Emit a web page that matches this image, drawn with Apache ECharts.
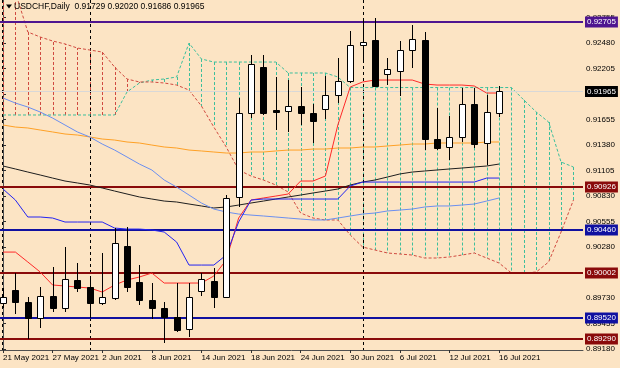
<!DOCTYPE html>
<html><head><meta charset="utf-8">
<script src="https://cdn.jsdelivr.net/npm/echarts@6/dist/echarts.min.js"></script>
<style>html,body{margin:0;padding:0;background:#fce4c4}#c{width:620px;height:368px}</style>
</head><body><div id="c"></div>
<script>
const symbol = 'USDCHF', timeframe = 'Daily';
const dates = ['21 May 2021','24 May 2021','25 May 2021','26 May 2021','27 May 2021','28 May 2021','31 May 2021',
 '1 Jun 2021','2 Jun 2021','3 Jun 2021','4 Jun 2021','7 Jun 2021','8 Jun 2021','9 Jun 2021','10 Jun 2021','11 Jun 2021',
 '14 Jun 2021','15 Jun 2021','16 Jun 2021','17 Jun 2021','18 Jun 2021','21 Jun 2021','22 Jun 2021','23 Jun 2021','24 Jun 2021','25 Jun 2021',
 '28 Jun 2021','29 Jun 2021','30 Jun 2021','1 Jul 2021','2 Jul 2021','5 Jul 2021','6 Jul 2021','7 Jul 2021','8 Jul 2021','9 Jul 2021',
 '12 Jul 2021','13 Jul 2021','14 Jul 2021','15 Jul 2021','16 Jul 2021'];
const open  = [0.89676,0.89817,0.89687,0.89515,0.89752,0.89623,0.89925,0.89849,0.89676,0.89730,0.90291,0.89903,0.89709,0.89623,0.89526,0.89396,0.89806,0.89914,0.89741,0.90820,0.91725,0.92221,0.91758,0.91747,0.91801,0.91725,0.91769,0.91920,0.92071,0.92459,0.92513,0.92146,0.92178,0.92405,0.92513,0.91445,0.91359,0.91467,0.91822,0.91402,0.91729];
const high  = [0.89838,0.90000,0.89741,0.89849,0.90065,0.90280,0.90108,0.89968,0.90216,0.90485,0.90496,0.90086,0.89892,0.89687,0.89892,0.89892,0.90000,0.90054,0.90841,0.91887,0.92351,0.92351,0.92114,0.92081,0.92006,0.91822,0.92124,0.92319,0.92610,0.92728,0.92750,0.92319,0.92502,0.92674,0.92599,0.91779,0.91693,0.91995,0.91995,0.91920,0.92020];
const low   = [0.89623,0.89558,0.89288,0.89407,0.89579,0.89579,0.89795,0.89515,0.89655,0.89709,0.89795,0.89655,0.89504,0.89245,0.89364,0.89310,0.89752,0.89623,0.89730,0.90712,0.91671,0.91704,0.91542,0.91521,0.91596,0.91402,0.91661,0.91833,0.92049,0.92275,0.92006,0.92027,0.91909,0.92211,0.91326,0.91326,0.91219,0.91413,0.91348,0.91165,0.91686];
const close = [0.89741,0.89687,0.89515,0.89752,0.89623,0.89935,0.89838,0.89676,0.89741,0.90324,0.89849,0.89709,0.89623,0.89526,0.89385,0.89741,0.89935,0.89741,0.90809,0.91725,0.92254,0.91725,0.91736,0.91801,0.91725,0.91639,0.91920,0.92071,0.92459,0.92491,0.92017,0.92200,0.92405,0.92523,0.91445,0.91348,0.91467,0.91822,0.91391,0.91736,0.91965];
const tenkan = [0.90226,0.90226,0.90119,0.90011,0.89871,0.89860,0.89849,0.89838,0.89795,0.89871,0.89925,0.89957,0.90000,0.89892,0.89892,0.89892,0.89892,0.89968,0.90140,0.90593,0.90787,0.90809,0.90830,0.90852,0.90992,0.90992,0.91046,0.91596,0.92006,0.92060,0.92081,0.92081,0.92081,0.92081,0.92038,0.92027,0.92027,0.92027,0.92017,0.91941,0.91941];
const kijun = [0.90906,0.90787,0.90604,0.90604,0.90593,0.90550,0.90550,0.90550,0.90550,0.90485,0.90474,0.90474,0.90464,0.90442,0.90334,0.90086,0.90086,0.90086,0.90194,0.90550,0.90787,0.90798,0.90798,0.90798,0.90798,0.90798,0.90798,0.90798,0.90938,0.90981,0.90981,0.90981,0.90981,0.90981,0.90981,0.90981,0.90981,0.90981,0.90981,0.91024,0.91024];
const spanA = [0.91704,0.91704,0.91704,0.91704,0.91704,0.91704,0.91704,0.91704,0.91704,0.91704,0.91952,0.92049,0.92081,0.92092,0.92114,0.92480,0.92308,0.92275,0.92275,0.92275,0.92275,0.92275,0.92275,0.92157,0.92157,0.92157,0.92157,0.92114,0.92000,0.92000,0.92000,0.92000,0.92000,0.92000,0.92000,0.92000,0.92000,0.92000,0.92000,0.92000,0.92000,0.92000,0.91866,0.91736,0.91628,0.91197,0.91143];
const spanB = [0.93268,0.93030,0.92599,0.92545,0.92502,0.92470,0.92426,0.92405,0.92383,0.92221,0.92092,0.92060,0.92060,0.92049,0.92027,0.91973,0.91801,0.91574,0.91359,0.91111,0.91046,0.91003,0.90949,0.90873,0.90647,0.90593,0.90572,0.90572,0.90410,0.90280,0.90248,0.90216,0.90205,0.90194,0.90162,0.90162,0.90173,0.90194,0.90216,0.90162,0.90108,0.90000,0.90000,0.90011,0.90119,0.90442,0.90787];
const maBlue = [0.91887,0.91833,0.91790,0.91736,0.91671,0.91596,0.91521,0.91467,0.91391,0.91326,0.91251,0.91175,0.91111,0.91003,0.90927,0.90841,0.90755,0.90690,0.90658,0.90636,0.90625,0.90615,0.90604,0.90593,0.90582,0.90572,0.90572,0.90593,0.90615,0.90636,0.90647,0.90669,0.90679,0.90690,0.90712,0.90723,0.90723,0.90733,0.90744,0.90776,0.90809];
const maBlack = [0.91154,0.91122,0.91089,0.91057,0.91024,0.90992,0.90971,0.90949,0.90917,0.90884,0.90852,0.90820,0.90798,0.90776,0.90766,0.90744,0.90723,0.90701,0.90712,0.90733,0.90755,0.90776,0.90798,0.90820,0.90841,0.90863,0.90884,0.90906,0.90949,0.90981,0.91003,0.91035,0.91068,0.91089,0.91100,0.91111,0.91122,0.91132,0.91143,0.91154,0.91175];
const maOrange = [0.91596,0.91574,0.91564,0.91542,0.91521,0.91499,0.91488,0.91467,0.91445,0.91434,0.91413,0.91402,0.91380,0.91359,0.91348,0.91326,0.91316,0.91305,0.91294,0.91294,0.91305,0.91305,0.91316,0.91326,0.91326,0.91337,0.91337,0.91348,0.91348,0.91359,0.91359,0.91370,0.91380,0.91391,0.91391,0.91402,0.91402,0.91402,0.91402,0.91413,0.91413];
const levels = [0.92705, 0.90926, 0.90460, 0.90002, 0.89520, 0.89290];
const bid = 0.91965;
const yTicks = [0.89180,0.89455,0.89730,0.90005,0.90280,0.90555,0.90830,0.91105,0.91380,0.91655,0.91930,0.92205,0.92480,0.92755];
const xTickIdx = [0,4,8,12,16,20,24,28,32,36,40];
const separators = ['1 Jun 2021','1 Jul 2021'];

// styles
const levelColors = ['#4e1590','#8a0a0a','#1010a0','#8a0a0a','#1010a0','#8a0a0a'];
const FONT = '"Liberation Sans",Arial,sans-serif';
const teal = '#3cbf9c', redDash = '#d04a40';
const X_MIN = -0.24, X_MAX = 46.77, Y_MIN = 0.89170, Y_MAX = 0.92944;

const chart = echarts.init(document.getElementById('c'), null, {renderer:'canvas'});
const pts = arr => arr.map((v,i)=>[i,v]);
function lineS(vals, color, width, type, z){
  return {type:'line', data: pts(vals), symbol:'none', silent:true, z,
    lineStyle:{color, width, type: type||'solid'}, animation:false};
}
const option = {
  backgroundColor:'#fce4c4',
  animation:false,
  grid:{left:0, right:37, top:0, bottom:18},
  xAxis:{type:'value', min:X_MIN, max:X_MAX, splitLine:{show:false},
    axisLine:{show:true, onZero:false, lineStyle:{color:'#505050', width:1}},
    axisTick:{show:true, customValues:xTickIdx, length:3, lineStyle:{color:'#303030'}},
    axisLabel:{customValues:xTickIdx, formatter:v=>dates[Math.round(v)], align:'left', margin:4,
      showMinLabel:true, showMaxLabel:true, hideOverlap:false,
      color:'#000', fontSize:8, fontFamily:FONT}},
  yAxis:{type:'value', position:'right', min:Y_MIN, max:Y_MAX, splitLine:{show:false},
    axisLine:{show:true, lineStyle:{color:'#505050', width:1}},
    axisTick:{show:true, customValues:yTicks, length:3, lineStyle:{color:'#303030'}},
    axisLabel:{customValues:yTicks, formatter:v=>v.toFixed(5), margin:3, color:'#000', fontSize:8, fontFamily:FONT,
      showMinLabel:true, showMaxLabel:true, hideOverlap:false}},
  graphic:[
    {type:'line', shape:{x1:2.5,y1:0,x2:2.5,y2:350}, style:{stroke:'#000', lineWidth:1, lineDash:[3,3]}, z:1, silent:true},
    {type:'polygon', shape:{points:[[6,4.5],[12,4.5],[9,8.5]]}, style:{fill:'#000'}, z:10},
    {type:'text', x:14, y:7, style:{text: symbol+','+timeframe+'  '+[open[40],high[40],low[40],close[40]].map(v=>v.toFixed(5)).join(' '),
      fill:'#000', font:'8.5px '+FONT, verticalAlign:'middle'}, z:10}
  ],
  series:[
    {type:'custom', z:1, clip:true, silent:true,
      data: spanA.map((a,i)=>[i,a,spanB[i]]),
      renderItem:(p,api)=>{
        const i=api.value(0), a=api.value(1), b=api.value(2);
        const pa=api.coord([i,a]), pb=api.coord([i,b]);
        const x=Math.round(pa[0])+0.5;
        return {type:'line', shape:{x1:x,y1:pa[1],x2:x,y2:pb[1]},
          style:{stroke: a>=b?teal:redDash, lineWidth:1, lineDash:[3,2]}};
      }},
    lineS(spanA, teal, 1, [3,2], 2),
    lineS(spanB, redDash, 1, [3,2], 2),
    {type:'custom', z:2, clip:true, silent:true,
      data: separators.map(d=>[dates.indexOf(d)]),
      renderItem:(p,api)=>{
        const x=Math.round(api.coord([api.value(0),Y_MIN])[0])+0.5;
        const cs=p.coordSys;
        return {type:'line', shape:{x1:x,y1:cs.y,x2:x,y2:cs.y+cs.height}, style:{stroke:'#000', lineWidth:1, lineDash:[3,3]}};
      }},
    {type:'custom', z:3, clip:false, silent:true,
      data: levels.map(v=>[v]).concat([[bid]]),
      renderItem:(p,api)=>{
        const v=api.value(0); const isBid = p.dataIndex===levels.length;
        const col = isBid ? '#d8d8d8' : levelColors[p.dataIndex];
        const bg = isBid ? '#000' : levelColors[p.dataIndex];
        const cs=p.coordSys;
        const y=api.coord([0,v])[1];
        const yy = isBid ? Math.round(y)+0.5 : Math.round(y);
        return {type:'group', children:[
          {type:'line', shape:{x1:cs.x,y1:yy,x2:cs.x+cs.width,y2:yy}, style:{stroke:col, lineWidth:isBid?1:2}},
          {type:'text', x:cs.x+cs.width+2, y:yy, z2:20,
            style:{text:v.toFixed(5), fill:'#fff', backgroundColor:bg, padding:[2,2,1,2],
              font:'8px '+FONT, verticalAlign:'middle', align:'left'}}
        ]};
      }},
    lineS(maOrange, '#ffa126', 1, 'solid', 4),
    lineS(maBlack, '#1e1e1e', 1, 'solid', 4),
    lineS(maBlue, '#6b8ff0', 1, 'solid', 4),
    lineS(tenkan, '#ff2a2a', 1, 'solid', 4),
    lineS(kijun, '#2424f2', 1, 'solid', 4),
    {type:'custom', z:6, clip:true, silent:true,
      data: open.map((o,i)=>[i,o,high[i],low[i],close[i]]),
      encode:{x:0, y:[1,2,3,4]},
      renderItem:(p,api)=>{
        const i=api.value(0), o=api.value(1), h=api.value(2), l=api.value(3), c=api.value(4);
        const pO=api.coord([i,o]), pC=api.coord([i,c]), pH=api.coord([i,h]), pL=api.coord([i,l]);
        const x=Math.round(pO[0])+0.5;
        const top=Math.round(Math.min(pO[1],pC[1]))+0.5, bot=Math.round(Math.max(pO[1],pC[1]))+0.5;
        const bull=c>=o;
        return {type:'group', children:[
          {type:'line', shape:{x1:x,y1:Math.round(pH[1]),x2:x,y2:Math.round(pL[1])}, style:{stroke:'#000', lineWidth:1}},
          {type:'rect', shape:{x:x-3, y:top, width:6, height:Math.max(bot-top,1)},
            style:{fill: bull?'#fff':'#000', stroke:'#000', lineWidth:1}}
        ]};
      }}
  ]
};
chart.setOption(option);
</script></body></html>
